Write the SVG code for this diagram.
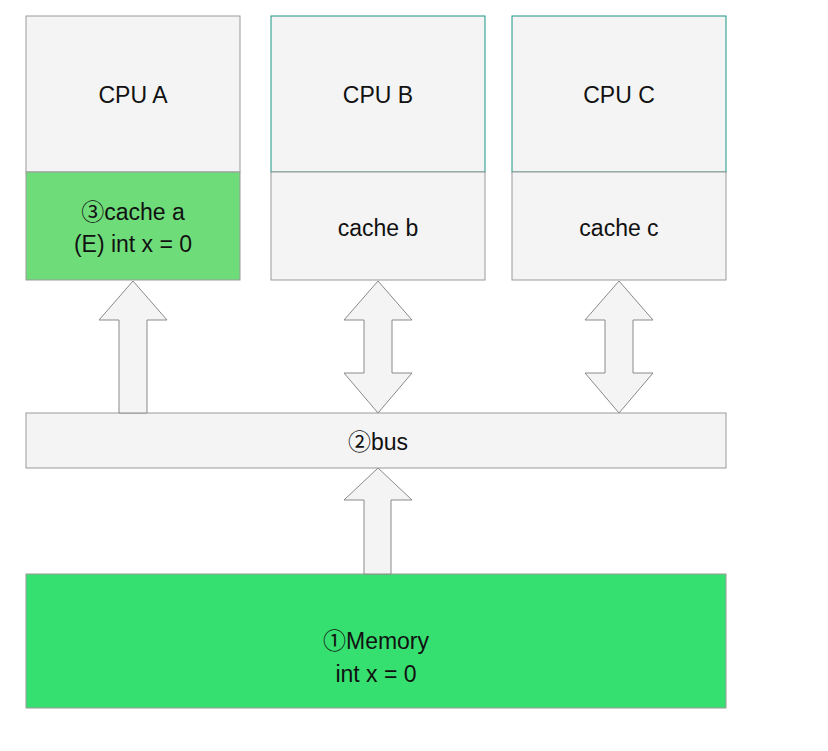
<svg xmlns="http://www.w3.org/2000/svg" width="828" height="751" viewBox="0 0 828 751">
<style>
.box{fill:#f4f4f4;stroke:#9a9a9a;stroke-width:1}
.cpu{fill:#f4f4f4;stroke:#1a9484;stroke-width:1}
.arr{fill:#f4f4f4;stroke:#8a8a8a;stroke-width:1;stroke-linejoin:miter}
text{font-family:"Liberation Sans",Arial,"Noto Sans CJK SC",sans-serif;font-size:23px;fill:#111;text-anchor:middle}
</style>
<rect width="828" height="751" fill="#ffffff"/>
<g id="cpuA">
<rect x="26" y="16" width="214" height="156" class="box"/>
<text x="133" y="103">CPU A</text>
</g>
<g id="cacheA">
<rect x="26" y="172" width="214" height="108" fill="#6fdc7a" stroke="#9a9a9a"/>
<text x="133" y="220">③cache a</text>
<text x="133" y="252">(E) int x = 0</text>
</g>
<g id="cpuB">
<rect x="271" y="16" width="214" height="156" class="cpu"/>
<text x="378" y="103">CPU B</text>
</g>
<g id="cacheB">
<rect x="271" y="172" width="214" height="108" class="box"/>
<text x="378" y="236">cache b</text>
</g>
<g id="cpuC">
<rect x="512" y="16" width="214" height="156" class="cpu"/>
<text x="619" y="103">CPU C</text>
</g>
<g id="cacheC">
<rect x="512" y="172" width="214" height="108" class="box"/>
<text x="619" y="236">cache c</text>
</g>
<g id="bus">
<rect x="26" y="413" width="700" height="55" class="box"/>
<text x="378" y="450">②bus</text>
</g>
<g id="memory">
<rect x="26" y="574" width="700" height="134" fill="#36e070" stroke="#9a9a9a"/>
<text x="376" y="649">①Memory</text>
<text x="376" y="682">int x = 0</text>
</g>
<g id="connectors">
<polygon class="arr" points="133,281 167,320 147,320 147,413 119,413 119,320 99,320"/>
<polygon class="arr" points="378,281 412,320 392,320 392,373 412,373 378,413 344,373 364,373 364,320 344,320"/>
<polygon class="arr" points="619,281 653,320 633,320 633,373 653,373 619,413 585,373 605,373 605,320 585,320"/>
<polygon class="arr" points="378,468 412,500 391,500 391,574 364,574 364,500 344,500"/>
</g>
</svg>
